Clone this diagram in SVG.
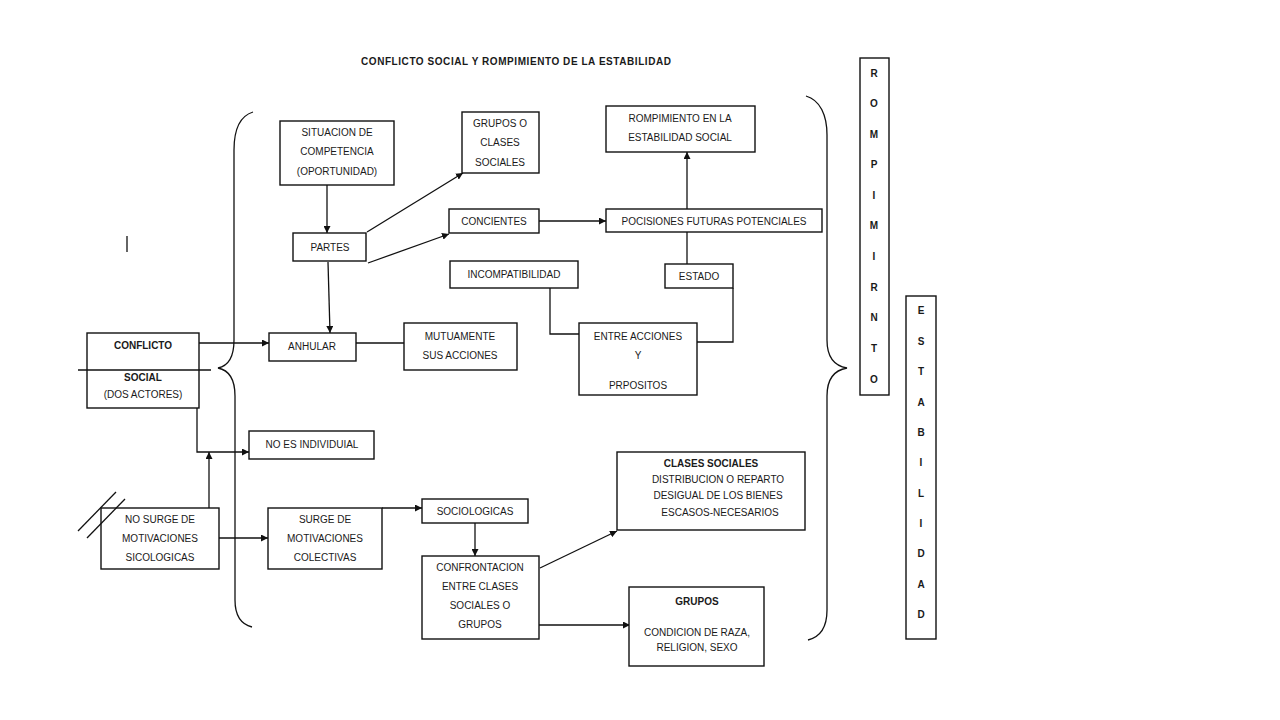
<svg xmlns="http://www.w3.org/2000/svg" width="1280" height="720" viewBox="0 0 1280 720">
<defs>
<marker id="ah" viewBox="0 0 10 10" refX="10" refY="5" markerWidth="7" markerHeight="7" markerUnits="userSpaceOnUse" orient="auto"><path d="M0,0 L10,5 L0,10 z" fill="#111"/></marker>
<style>
.b{fill:#fff;stroke:#111;stroke-width:1.4}
.t{font-family:"Liberation Sans",Arial,sans-serif;font-size:10px;fill:#1a1a1a;text-anchor:middle}
.bd{font-weight:bold}
.c{fill:none;stroke:#111;stroke-width:1.3}
.a{marker-end:url(#ah)}
</style>
</defs>
<rect width="1280" height="720" fill="#fff"/>
<text class="t bd" x="516" y="65" font-size="10.5" textLength="310">CONFLICTO SOCIAL Y ROMPIMIENTO DE LA ESTABILIDAD</text>
<line class="c" x1="127" y1="236" x2="127" y2="252"/>

<g id="connectors">
<path class="c" d="M253,112 C240,116 234,130 234,150 L234,340 C234,358 228,366 218,368 C228,370 235,378 235,396 L235,600 C235,615 240,624 252,627"/>
<path class="c" d="M806,96 C820,100 827,115 827,135 L827,340 C827,358 835,366 847,368 C835,370 827,378 827,396 L827,610 C827,628 820,637 808,640"/>
<line class="c a" x1="199" y1="343" x2="269" y2="343"/>
<line class="c a" x1="327" y1="185" x2="327" y2="233"/>
<line class="c a" x1="328" y1="262" x2="330" y2="333"/>
<line class="c a" x1="367" y1="232" x2="463" y2="173"/>
<line class="c a" x1="368" y1="263" x2="449" y2="234"/>
<line class="c" x1="356" y1="343" x2="404" y2="343"/>
<line class="c a" x1="539" y1="221" x2="606" y2="221"/>
<line class="c a" x1="687" y1="209" x2="687" y2="152"/>
<line class="c" x1="687" y1="232" x2="687" y2="264"/>
<polyline class="c" points="550,288 550,334 579,334"/>
<polyline class="c" points="733,288 733,342 697,342"/>
<polyline class="c a" points="197,408 197,452 249,452"/>
<line class="c a" x1="209" y1="508" x2="209" y2="452"/>
<line class="c a" x1="219" y1="538" x2="268" y2="538"/>
<polyline class="c a" points="382,508 422,508"/>
<line class="c a" x1="475" y1="523" x2="475" y2="556"/>
<line class="c a" x1="540" y1="568" x2="617" y2="531"/>
<line class="c a" x1="539" y1="625" x2="630" y2="625"/>
</g>

<g id="conflicto"><rect class="b" x="87" y="333" width="112" height="75"/>
<text class="t bd" x="143" y="349">CONFLICTO</text><text class="t bd" x="143" y="381">SOCIAL</text><text class="t" x="143" y="398">(DOS ACTORES)</text>
<line class="c" x1="78" y1="370" x2="211" y2="370"/></g>

<g id="situacion"><rect class="b" x="280" y="121" width="114" height="64"/>
<text class="t" x="337" y="136">SITUACION DE</text><text class="t" x="337" y="155">COMPETENCIA</text><text class="t" x="337" y="175">(OPORTUNIDAD)</text></g>

<g id="partes"><rect class="b" x="293" y="233" width="73" height="28"/><text class="t" x="330" y="251">PARTES</text></g>

<g id="grupos-clases"><rect class="b" x="462" y="112" width="77" height="61"/>
<text class="t" x="500" y="127">GRUPOS O</text><text class="t" x="500" y="146">CLASES</text><text class="t" x="500" y="166">SOCIALES</text></g>

<g id="concientes"><rect class="b" x="449" y="209" width="90" height="24"/><text class="t" x="494" y="225">CONCIENTES</text></g>

<g id="incompatibilidad"><rect class="b" x="450" y="261" width="128" height="27"/><text class="t" x="514" y="278">INCOMPATIBILIDAD</text></g>

<g id="anhular"><rect class="b" x="269" y="333" width="87" height="28"/><text class="t" x="312" y="350">ANHULAR</text></g>

<g id="mutuamente"><rect class="b" x="404" y="323" width="113" height="47"/>
<text class="t" x="460" y="340">MUTUAMENTE</text><text class="t" x="460" y="359">SUS ACCIONES</text></g>

<g id="rompimiento-estabilidad"><rect class="b" x="606" y="106" width="149" height="46"/>
<text class="t" x="680" y="122">ROMPIMIENTO EN LA</text><text class="t" x="680" y="141">ESTABILIDAD SOCIAL</text></g>

<g id="pocisiones"><rect class="b" x="606" y="209" width="216" height="23"/><text class="t" x="714" y="225">POCISIONES FUTURAS POTENCIALES</text></g>

<g id="estado"><rect class="b" x="665" y="264" width="68" height="24"/><text class="t" x="699" y="280">ESTADO</text></g>

<g id="entre-acciones"><rect class="b" x="579" y="323" width="118" height="72"/>
<text class="t" x="638" y="340">ENTRE ACCIONES</text><text class="t" x="638" y="359">Y</text><text class="t" x="638" y="389">PRPOSITOS</text></g>

<g id="no-es-individual"><rect class="b" x="249" y="431" width="125" height="28"/><text class="t" x="312" y="448">NO ES INDIVIDUIAL</text></g>

<g id="no-surge"><rect class="b" x="101" y="508" width="118" height="61"/>
<text class="t" x="160" y="523">NO SURGE DE</text><text class="t" x="160" y="542">MOTIVACIONES</text><text class="t" x="160" y="561">SICOLOGICAS</text>
<line class="c" x1="78" y1="531" x2="116" y2="492"/>
<line class="c" x1="87" y1="538" x2="125" y2="499"/></g>

<g id="surge"><rect class="b" x="268" y="508" width="114" height="61"/>
<text class="t" x="325" y="523">SURGE DE</text><text class="t" x="325" y="542">MOTIVACIONES</text><text class="t" x="325" y="561">COLECTIVAS</text></g>

<g id="sociologicas"><rect class="b" x="422" y="499" width="106" height="24"/><text class="t" x="475" y="515">SOCIOLOGICAS</text></g>

<g id="confrontacion"><rect class="b" x="422" y="556" width="117" height="83"/>
<text class="t" x="480" y="571">CONFRONTACION</text><text class="t" x="480" y="590">ENTRE CLASES</text><text class="t" x="480" y="609">SOCIALES O</text><text class="t" x="480" y="628">GRUPOS</text></g>

<g id="clases-sociales"><rect class="b" x="617" y="452" width="188" height="78"/>
<text class="t bd" x="711" y="467">CLASES SOCIALES</text><text class="t" x="718" y="483">DISTRIBUCION O REPARTO</text><text class="t" x="718" y="499">DESIGUAL DE LOS BIENES</text><text class="t" x="720" y="516">ESCASOS-NECESARIOS</text></g>

<g id="grupos"><rect class="b" x="629" y="587" width="135" height="79"/>
<text class="t bd" x="697" y="605">GRUPOS</text><text class="t" x="697" y="636">CONDICION DE RAZA,</text><text class="t" x="697" y="651">RELIGION, SEXO</text></g>

<g id="rompimirnto"><rect class="b" x="860" y="58" width="29" height="337"/>
<g class="t bd">
<text x="874" y="77">R</text><text x="874" y="107">O</text><text x="874" y="138">M</text><text x="874" y="168">P</text><text x="874" y="199">I</text><text x="874" y="229">M</text><text x="874" y="260">I</text><text x="874" y="291">R</text><text x="874" y="321">N</text><text x="874" y="352">T</text><text x="874" y="383">O</text>
</g></g>

<g id="estabilidad"><rect class="b" x="906" y="296" width="30" height="343"/>
<g class="t bd">
<text x="921" y="314">E</text><text x="921" y="345">S</text><text x="921" y="375">T</text><text x="921" y="406">A</text><text x="921" y="436">B</text><text x="921" y="466">I</text><text x="921" y="497">L</text><text x="921" y="527">I</text><text x="921" y="557">D</text><text x="921" y="588">A</text><text x="921" y="618">D</text>
</g></g>
</svg>
